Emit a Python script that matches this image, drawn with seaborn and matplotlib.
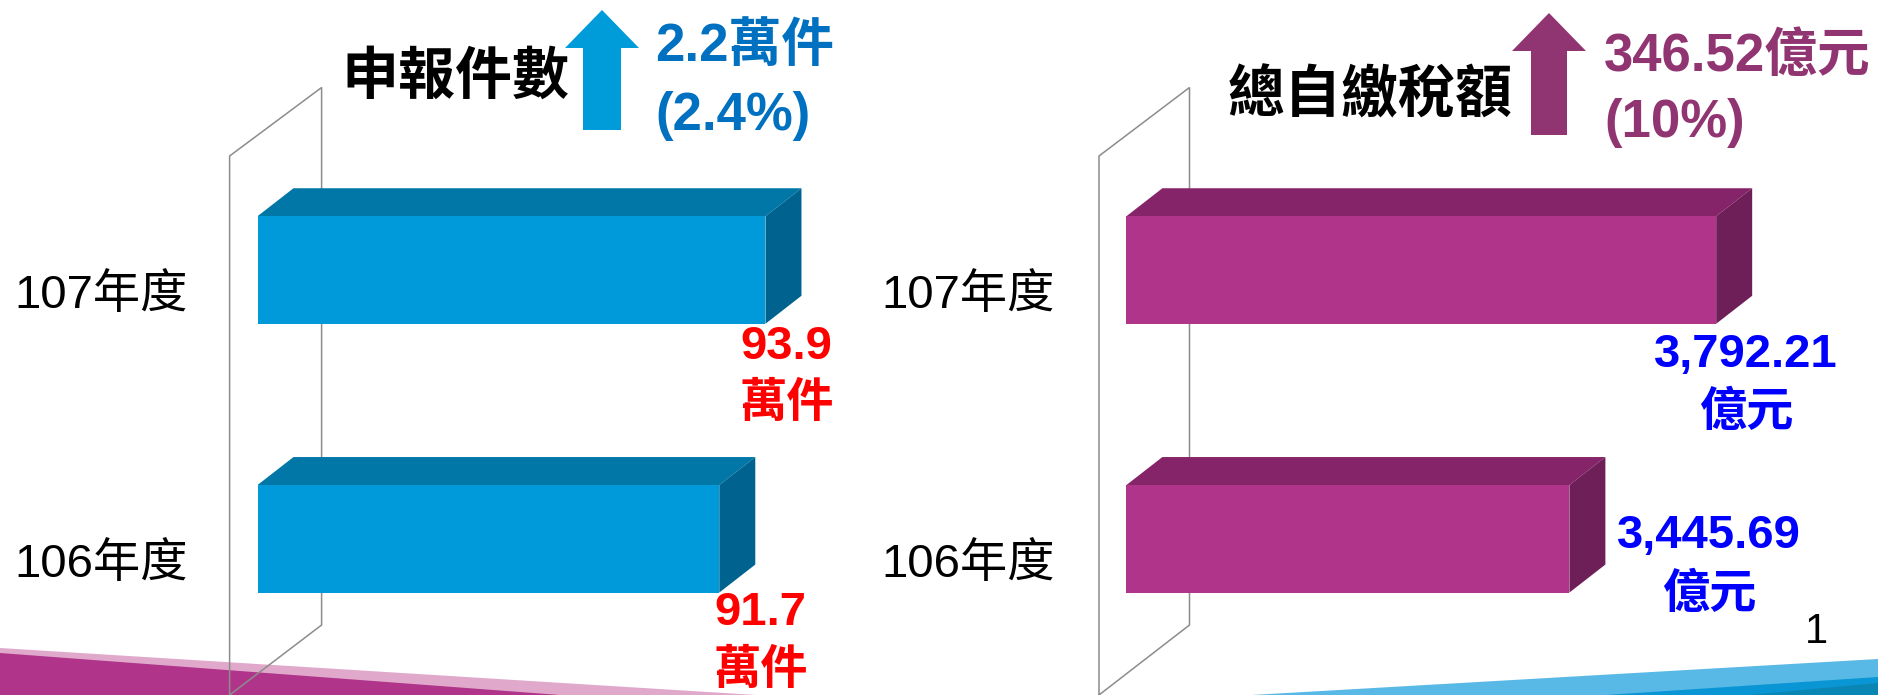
import numpy as np
import pandas as pd
import matplotlib
matplotlib.use('Agg')
import matplotlib.pyplot as plt
import seaborn as sns
from matplotlib.patches import Polygon
from matplotlib.lines import Line2D
from matplotlib.transforms import Affine2D, IdentityTransform

# ---------------- data ----------------
categories = ['107年度', '106年度']
filings = [93.9, 91.7]            # 萬件
tax_paid = [3792.21, 3445.69]     # 億元
filing_labels = ['93.9', '91.7']
filing_unit = '萬件'
tax_labels = ['3,792.21', '3,445.69']
tax_unit = '億元'
titles = ['申報件數', '總自繳稅額']
increase_values = ['2.2萬件', '346.52億元']
increase_pcts = ['(2.4%)', '(10%)']
page_number = '1'

# ---------------- setup ----------------
W, H, DPI = 1878, 695, 100
sns.set_theme(style='white')
FAM = ['Liberation Sans', 'Noto Sans CJK TC', 'DejaVu Sans']
plt.rcParams['font.family'] = FAM

fig = plt.figure(figsize=(W / DPI, H / DPI), dpi=DPI)
fig.patch.set_facecolor('white')
pix = Affine2D().scale(1, -1).translate(0, H)   # pixel coords, origin top-left

# ---------------- slide decorations ----------------
def poly(pts, color, z):
    p = Polygon(pts, closed=True, facecolor=color, edgecolor='none', transform=pix, zorder=z)
    fig.add_artist(p)

poly([(0, 648), (756, 695), (0, 695)], '#E0A9CC', -5)
poly([(0, 653), (560, 695), (0, 695)], '#B0358A', -4)
poly([(1252, 695), (1878, 659), (1878, 695)], '#58B8E6', -5)
poly([(1606, 695), (1878, 677), (1878, 695)], '#0A96D4', -4)
poly([(1748, 695), (1878, 683), (1878, 695)], '#0A86B5', -3)

# ---------------- panels ----------------
axL = fig.add_axes([257.5 / W, (H - 673.2) / H, 636 / W, 537.6 / H])
axR = fig.add_axes([1126.4 / W, (H - 673.2) / H, 677.8 / W, 537.6 / H])

panels = [
    dict(ax=axL, vals=filings, xmin=69.7, xmax=100.0,
         front='#009ADA', top='#0077A6', side='#00628E',
         labels=filing_labels, unit=filing_unit, lab_color='#FF0000',
         offsets=[(21, 77, 135), (41, 74, 133)], cat_pad=70,
         wall_x=(229.6, 321.6)),
    dict(ax=axR, vals=tax_paid, xmin=2400.0, xmax=4000.0,
         front='#B0358A', top='#852468', side='#6E1F58',
         labels=tax_labels, unit=tax_unit, lab_color='#0000FF',
         offsets=[(30, 85, 144), (140, -3, 57)], cat_pad=72,
         wall_x=(1099.0, 1189.5)),
]

DX, DY = 36, 28   # 3-D depth offset in pixels

for pn in panels:
    ax = pn['ax']
    fx, bx = pn['wall_x']
    wall = Line2D([fx, fx, bx, bx, fx], [700, 156, 87.5, 625, 695],
                  transform=pix, color='#8C8C8C', lw=1.1, zorder=-1,
                  solid_joinstyle='miter')
    fig.add_artist(wall)

    df = pd.DataFrame({'category': categories, 'value': pn['vals']})
    sns.barplot(data=df, x='value', y='category', orient='h', color=pn['front'],
                saturation=1, width=0.4, ax=ax, zorder=3, linewidth=0)
    ax.set_xlim(pn['xmin'], pn['xmax'])
    ax.set_ylim(1.5, -0.5)
    ax.axis('off')

    for p in ax.patches:
        x0d = max(p.get_x(), pn['xmin'])
        x1d = p.get_x() + p.get_width()
        y0d = p.get_y()
        y1d = y0d + p.get_height()
        X0, Yt = ax.transData.transform((x0d, y0d))
        X1, Yb = ax.transData.transform((x1d, y1d))
        if Yt < Yb:
            Yt, Yb = Yb, Yt
        topf = Polygon([(X0, Yt), (X1, Yt), (X1 + DX, Yt + DY), (X0 + DX, Yt + DY)],
                       closed=True, facecolor=pn['top'], edgecolor='none',
                       transform=IdentityTransform(), clip_on=False, zorder=2)
        sidef = Polygon([(X1, Yt), (X1 + DX, Yt + DY), (X1 + DX, Yb + DY), (X1, Yb)],
                        closed=True, facecolor=pn['side'], edgecolor='none',
                        transform=IdentityTransform(), clip_on=False, zorder=2)
        ax.add_patch(topf)
        ax.add_patch(sidef)

    for i, (cat, v, lab, off) in enumerate(zip(categories, pn['vals'], pn['labels'], pn['offsets'])):
        ax.annotate(cat, xy=(0, i), xycoords=ax.get_yaxis_transform(),
                    xytext=(-pn['cat_pad'], -26), textcoords='offset pixels',
                    ha='right', va='center', fontsize=34, color='black',
                    annotation_clip=False)
        ax.annotate(lab, xy=(v, i), xycoords='data',
                    xytext=(off[0], -off[1]), textcoords='offset pixels',
                    ha='center', va='center', fontsize=34, fontweight='bold',
                    color=pn['lab_color'], annotation_clip=False)
        ax.annotate(pn['unit'], xy=(v, i), xycoords='data',
                    xytext=(off[0], -off[2]), textcoords='offset pixels',
                    ha='center', va='center', fontsize=34, fontweight='heavy',
                    color=pn['lab_color'], annotation_clip=False)

# ---------------- titles & increase arrows ----------------
fig.text(455, 79, titles[0], transform=pix, ha='center', va='center',
         fontsize=41, fontweight='black', color='black')
fig.text(1370, 97, titles[1], transform=pix, ha='center', va='center',
         fontsize=41, fontweight='black', color='black')

poly([(583, 130), (583, 48), (565, 48), (602, 10), (639, 48), (621, 48), (621, 130)], '#009BD9', 2)
poly([(1531, 135), (1531, 51), (1512, 51), (1549, 13), (1586, 51), (1567, 51), (1567, 135)], '#913472', 2)

fig.text(655, 47, increase_values[0], transform=pix, ha='left', va='center',
         fontsize=38, fontweight='bold', color='#0070C0')
fig.text(655, 116, increase_pcts[0], transform=pix, ha='left', va='center',
         fontsize=38, fontweight='bold', color='#0070C0')
fig.text(1604, 57, increase_values[1], transform=pix, ha='left', va='center',
         fontsize=38, fontweight='bold', color='#913472')
fig.text(1604, 123, increase_pcts[1], transform=pix, ha='left', va='center',
         fontsize=38, fontweight='bold', color='#913472')

fig.text(1816, 632, page_number, transform=pix, ha='center', va='center',
         fontsize=30, color='black')

fig.savefig('out.png', dpi=DPI, facecolor='white')
